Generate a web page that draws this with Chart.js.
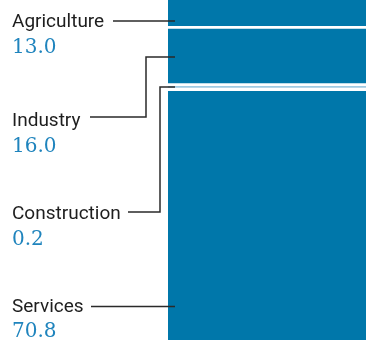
<!DOCTYPE html>
<html>
<head>
<meta charset="utf-8">
<script src="https://cdn.jsdelivr.net/npm/chart.js@4"></script>
<style>
  html, body { margin: 0; padding: 0; background: #fff; }
  #wrap { width: 366px; height: 340px; }
</style>
</head>
<body>
<div id="wrap"><canvas id="chart" width="366" height="340"></canvas></div>
<script>
// Share of employment by sector (%)
const sectors = ['Agriculture', 'Industry', 'Construction', 'Services'];
const shares = [13.0, 16.0, 0.2, 70.8];
const valueLabels = ['13.0', '16.0', '0.2', '70.8'];
const colors = ['#0077aa', '#0077aa', '#9fcae2', '#0077aa'];

// label layout: where each label sits and how its leader line runs to the bar
const labelLayout = [
  { textY: 27,  numY: 53,  path: [[113, 21], [175, 21]] },
  { textY: 126, numY: 152, path: [[90, 117], [146, 117], [146, 57], [175, 57]] },
  { textY: 219, numY: 245, path: [[128, 212], [160, 212], [160, 87], [175, 87]] },
  { textY: 312, numY: 337, path: [[91, 306.5], [175, 306.5]] }
];

// white gaps between the segments
const borders = [
  { top: 0, bottom: 1.3, left: 0, right: 0 },
  { top: 1.4, bottom: 2.7, left: 0, right: 0 },
  0,
  { top: 3.3, bottom: 0, left: 0, right: 0 }
];

const labelPlugin = {
  id: 'sectorLabels',
  afterDatasetsDraw(chart) {
    const ctx = chart.ctx;
    ctx.save();
    sectors.forEach((name, i) => {
      const lay = labelLayout[i];
      ctx.font = '19px Roboto';
      ctx.fillStyle = '#1e1e1e';
      ctx.textAlign = 'left';
      ctx.textBaseline = 'alphabetic';
      ctx.fillText(name, 12, lay.textY);

      ctx.font = '20px "DejaVu Serif"';
      ctx.fillStyle = '#1f84bd';
      ctx.fillText(valueLabels[i], 12, lay.numY);

      ctx.strokeStyle = '#2a2a2a';
      ctx.lineWidth = 1.5;
      ctx.beginPath();
      lay.path.forEach((p, j) => j ? ctx.lineTo(p[0], p[1]) : ctx.moveTo(p[0], p[1]));
      ctx.stroke();
    });
    ctx.restore();
  }
};

new Chart(document.getElementById('chart'), {
  type: 'bar',
  data: {
    labels: ['Employment'],
    datasets: sectors.map((s, i) => ({
      label: s,
      data: [shares[i]],
      backgroundColor: colors[i],
      borderColor: '#ffffff',
      borderWidth: borders[i],
      borderSkipped: false,
      inflateAmount: 0,
      minBarLength: i === 2 ? 1.7 : 0,
      barPercentage: 1,
      categoryPercentage: 1
    }))
  },
  options: {
    responsive: false,
    animation: false,
    layout: { padding: { left: 168, right: 0, top: 0, bottom: 0 } },
    plugins: { legend: { display: false }, tooltip: { enabled: false } },
    scales: {
      x: { stacked: true, display: false },
      y: { stacked: true, display: false, reverse: true, min: 5.56, max: 98.2 }
    }
  },
  plugins: [labelPlugin]
});
</script>
</body>
</html>
